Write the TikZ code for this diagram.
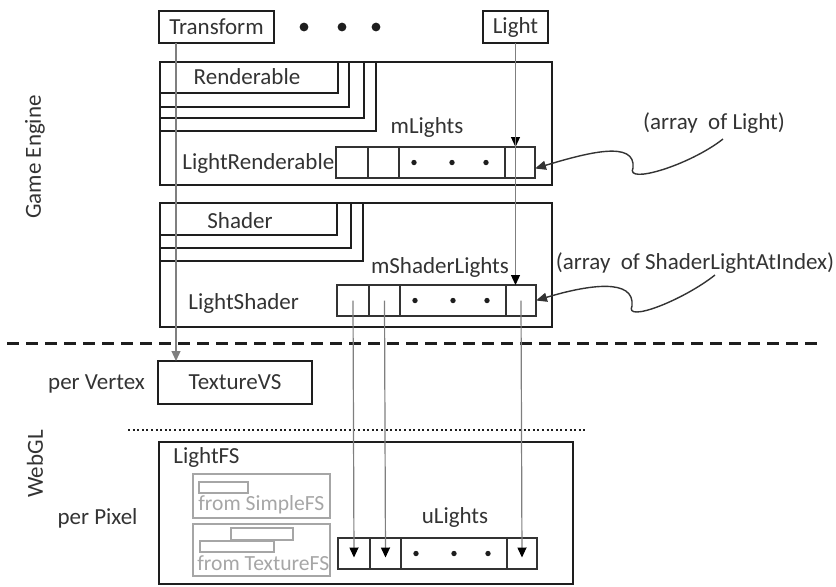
\documentclass[tikz,border=0pt]{standalone}
\usepackage{fontspec}
\setmainfont{Carlito}
\usetikzlibrary{arrows.meta,positioning,calc}
\definecolor{inkDark}{HTML}{333333}
\definecolor{inkLine}{HTML}{1E1E1E}
\definecolor{inkWire}{HTML}{7F7F7F}
\definecolor{inkGhost}{HTML}{A6A6A6}
\tikzset{
  >=Triangle,
  frame/.style ={draw=inkLine,line width=1.3pt},
  layer/.style ={draw=inkLine,line width=1.1pt},
  tag/.style   ={text=inkDark,inner sep=0pt,font=\fontsize{11.5}{13}\selectfont},
  ghosttag/.style={tag,text=inkGhost,font=\fontsize{10.8}{12}\selectfont},
  boxtag/.style={tag,draw=inkLine,line width=1.2pt,outer sep=0pt},
  cell/.style  ={draw=inkDark,line width=0.6pt,minimum height=15.5pt,inner sep=0pt,outer sep=0pt},
  feed/.style  ={draw=inkWire,line width=0.6pt,-{Triangle[length=5pt,width=4.5pt,color=black]}},
  tfeed/.style ={draw=inkWire,line width=0.6pt,-{Triangle[length=5pt,width=4.5pt]}},
  callout/.style={draw=inkDark,line width=0.7pt,-{Triangle[length=5.5pt,width=4.5pt]}},
  ghost/.style ={draw=inkGhost,line width=0.8pt},
}
% one row of light slots: prefix, north west corner
\newcommand{\lightarray}[2]{%
  \node[cell,minimum width=16pt,anchor=north west] (#1a) at #2 {};
  \node[cell,minimum width=15.5pt,right=0pt of #1a] (#1b) {};
  \node[cell,minimum width=53pt,right=0pt of #1b] (#1c) {};
  \node[cell,minimum width=15pt,right=0pt of #1c] (#1d) {};
  \foreach \dx in {-38,0,34} \fill[inkLine] ($(#1c.center)+(\dx,0)$) circle (1.35pt);
}

\begin{document}
\begin{tikzpicture}[x=0.5pt,y=-0.5pt]
  \useasboundingbox (0,0) rectangle (836,586);

  % top components
  \node[boxtag,minimum width=57.5pt,minimum height=16pt] (transform) at (216.5,27) {Transform};
  \node[boxtag,minimum width=32.5pt,minimum height=16pt] (light) at (515.5,27) {Light};
  \foreach \x in {304,342,376} \fill[inkLine] (\x,27) circle (2.2pt);

  % LightRenderable
  \draw[frame] (160,62) rectangle (552,185);
  \foreach \x/\y in {338/93,349/107,364/118,376/131} \draw[layer] (160,62) rectangle (\x,\y);
  \node[tag] (renderable) at (247,77) {Renderable};
  \node[tag] (mlights) at (427,127) {mLights};
  \node[tag,anchor=west] (lrend) at (182,163) {LightRenderable};
  \lightarray{r}{(336,147)}

  % LightShader
  \draw[frame] (160,203) rectangle (552,327);
  \foreach \x/\y in {337/235,351/248,363/261} \draw[layer] (160,203) rectangle (\x,\y);
  \node[tag] (shader) at (240,221) {Shader};
  \node[tag] (mshlights) at (440,267) {mShaderLights};
  \node[tag,anchor=west] (lshader) at (188,303) {LightShader};
  \lightarray{s}{(337,285)}

  % engine / webgl split
  \draw[inkLine,line width=1.5pt,dash pattern=on 6pt off 3.5pt] (7,343) -- (818,343);

  \node[boxtag,minimum width=77pt,minimum height=21.5pt] (texvs) at (235,382.5) {TextureVS};
  \node[tag] (pervertex) at (96.5,384) {per Vertex};
  \draw[inkLine,line width=1.2pt,dash pattern=on 1pt off 1.3pt] (128,430) -- (587,430);

  % LightFS
  \draw[frame] (159,442) rectangle (573,584);
  \node[tag,anchor=west] (lightfs) at (173,457) {LightFS};
  \draw[ghost] (193,474) rectangle (330,518);
  \draw[ghost] (199,482) rectangle (248,493);
  \node[ghosttag,anchor=west] (fromsimple) at (198,505) {from SimpleFS};
  \draw[ghost] (193,524) rectangle (330,576);
  \draw[ghost] (231,528) rectangle (293,540);
  \draw[ghost] (200,541) rectangle (274,552);
  \node[ghosttag,anchor=west] (fromtexture) at (197,563) {from TextureFS};
  \node[tag] (ulights) at (455,517) {uLights};
  \lightarray{u}{(338,538)}

  % side labels
  \node[tag,rotate=90] (gameengine) at (35,157) {Game Engine};
  \node[tag,rotate=90] (webgl) at (35,464) {WebGL};
  \node[tag] (perpixel) at (97.5,518) {per Pixel};

  % wires
  \coordinate (tfoot) at ([xshift=-20.25pt]transform.south);
  \draw[tfeed] (tfoot) -- (tfoot |- texvs.north);
  \draw[feed] (light.south) -- (light.south |- rd.north);
  \draw[feed] (light.south) -- (light.south |- sd.north);
  \foreach \c in {a,b,d} \draw[feed] (s\c.center) -- ([yshift=-2pt]u\c.center);

  % callouts
  \node[tag] (arrlight) at (714,123) {(array\ \ of Light)};
  \node[tag] (arrshader) at (695,263) {(array\ \ of ShaderLightAtIndex)};
  \coordinate (lighttail) at (723,139);
  \coordinate (lightwig) at (633,168);
  \draw[callout] (lighttail) .. controls +(-33,26) and +(-8,17) .. (lightwig)
    .. controls +(3,-28) and +(53,-16) .. ([yshift=-3pt]rd.east);
  \coordinate (shadertail) at (715,275);
  \coordinate (shaderwig) at (632,306);
  \draw[callout] (shadertail) .. controls +(-33,26) and +(-8,17) .. (shaderwig)
    .. controls +(3,-28) and +(53,-16) .. (sd.east);
\end{tikzpicture}
\end{document}
